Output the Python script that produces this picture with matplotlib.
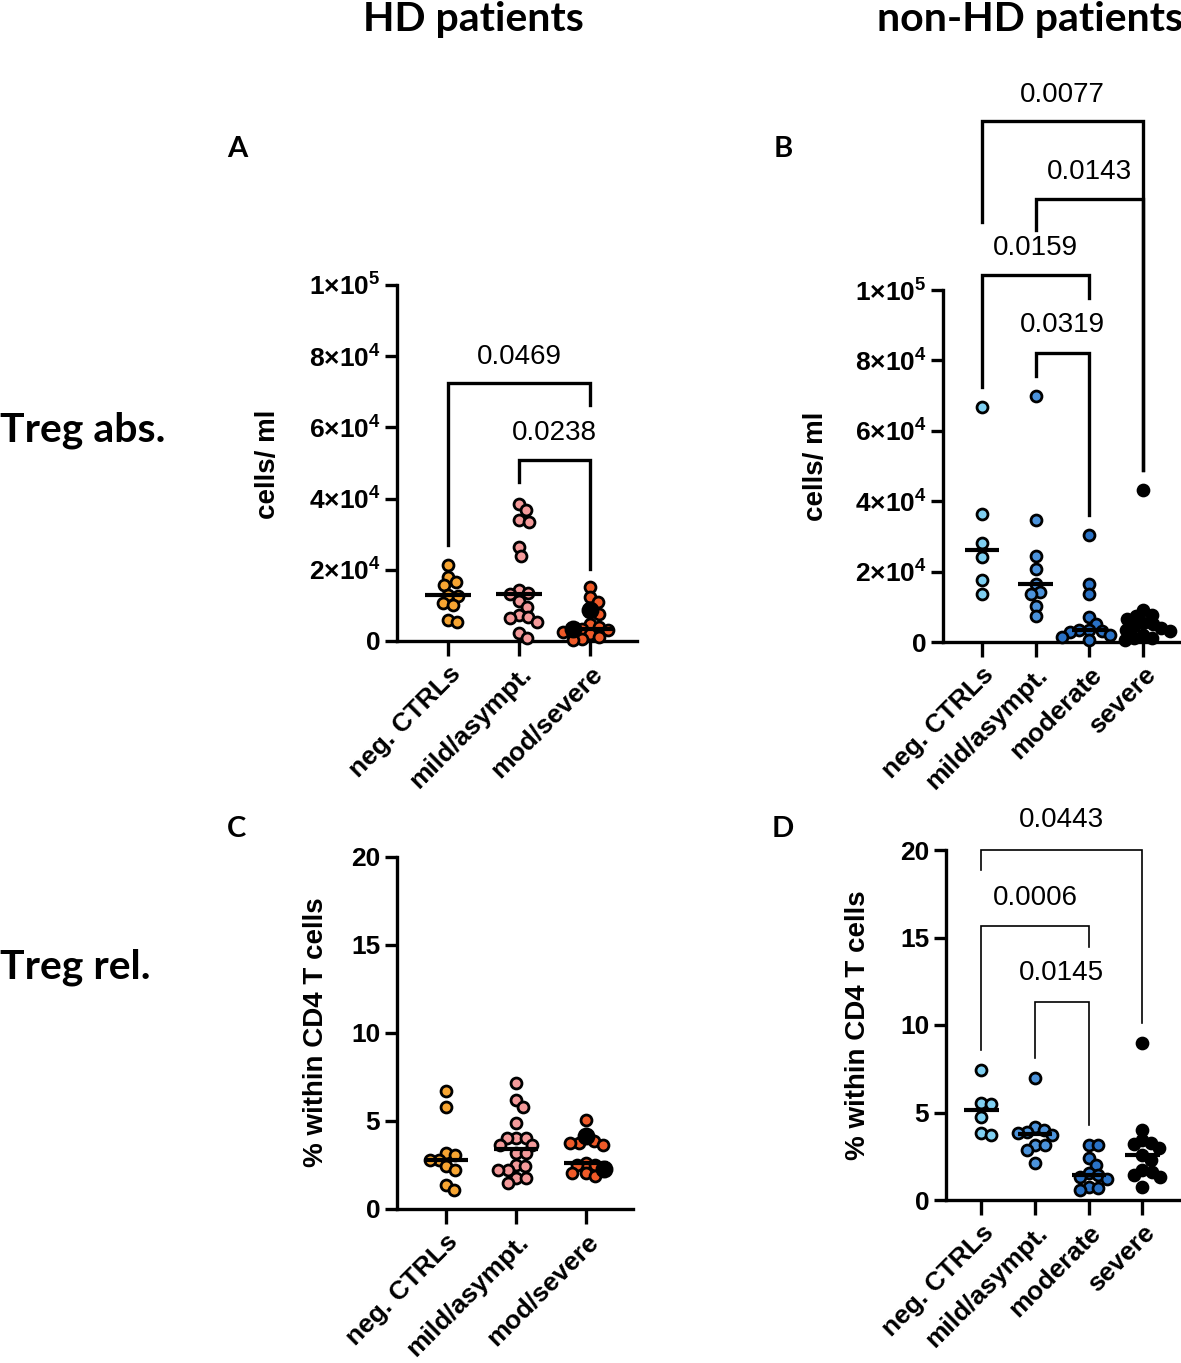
import numpy as np
import matplotlib
matplotlib.use("Agg")
import matplotlib.pyplot as plt

plt.rcParams["font.family"] = ["Liberation Sans", "DejaVu Sans"]
plt.rcParams["mathtext.fontset"] = "custom"
plt.rcParams["mathtext.rm"] = "Liberation Sans:bold"
plt.rcParams["mathtext.bf"] = "Liberation Sans:bold"
plt.rcParams["mathtext.default"] = "bf"

W, H = 1181, 1363

# ---- data -------------------------------------------------------------
HD_GROUPS = ["neg. CTRLs", "mild/asympt.", "mod/severe"]
NONHD_GROUPS = ["neg. CTRLs", "mild/asympt.", "moderate", "severe"]

HD_COLORS = ["#F7A532", "#F49A9A", "#F05A28"]
NONHD_COLORS = ["#7FD0F2", "#4C93DB", "#2A72C6", "#000000"]

# Treg abs. (cells/ml), HD patients
A_neg = [21400, 18100, 16700, 15700, 12900, 12700, 10600, 10100, 5900, 5400]
A_mild = [38600, 36900, 33900, 33500, 26400, 23800, 14300, 13600, 13200,
          11100, 9600, 7300, 6800, 6400, 5400, 2200, 800]
A_mod = [15300, 12500, 11000, 7700, 4900, 3900, 3500, 3000, 2600, 2000,
         1100, 700, 200]
A_mod_black = [8700, 3300]

# Treg abs. (cells/ml), non-HD patients
B_neg = [66800, 36500, 28000, 24200, 17500, 13700]
B_mild = [69900, 34600, 24400, 20600, 16600, 14200, 13700, 10100, 7300]
B_moderate = [30300, 16600, 13700, 7100, 5200, 3500, 3300, 3000, 2800,
              1900, 1400, 700]
B_severe = [43100, 9000, 7800, 7400, 6600, 5500, 5000, 4500, 4000, 3500,
            3000, 2000, 1200, 1000, 600]

# Treg rel. (% within CD4 T cells), HD patients
C_neg = [6.73, 5.82, 3.18, 3.08, 2.80, 2.80, 2.42, 2.23, 1.38, 1.06]
C_mild = [7.15, 6.20, 5.82, 4.88, 4.03, 4.03, 4.03, 3.65, 3.65, 3.18, 3.18,
          2.51, 2.42, 2.23, 2.23, 1.76, 1.76, 1.47]
C_mod = [5.07, 3.84, 3.74, 3.74, 3.65, 2.61, 2.51, 2.51, 2.04, 2.04, 1.85]
C_mod_black = [4.12, 2.30]

# Treg rel. (% within CD4 T cells), non-HD patients
D_neg = [7.43, 5.52, 5.49, 4.76, 3.81, 3.71]
D_mild = [6.95, 4.19, 4.00, 3.90, 3.85, 3.71, 3.14, 3.14, 2.86, 2.10]
D_moderate = [3.14, 3.14, 2.38, 2.00, 1.52, 1.43, 1.33, 1.20, 0.76, 0.67,
              0.57]
D_severe = [8.95, 4.00, 3.43, 3.24, 3.20, 2.95, 2.57, 2.29, 1.71, 1.62,
            1.43, 1.33, 0.76]

ABS_TICKS = [0, 20000, 40000, 60000, 80000, 100000]
ABS_TICKLABELS = ["0", r"$\mathbf{2{\times}10^{4}}$", r"$\mathbf{4{\times}10^{4}}$",
                  r"$\mathbf{6{\times}10^{4}}$", r"$\mathbf{8{\times}10^{4}}$",
                  r"$\mathbf{1{\times}10^{5}}$"]
REL_TICKS = [0, 5, 10, 15, 20]

# significance brackets: (group i, group j, top, left leg end, right leg end, text y, p)
A_SIG = [(0, 2, 72400, 26900, 66300, 79800, "0.0469"),
         (1, 2, 50800, 44700, 20300, 58300, "0.0238")]
B_SIG = [(0, 3, 148000, 119300, 48800, 155400, "0.0077"),
         (1, 3, 125800, 117000, 48800, 133500, "0.0143"),
         (0, 2, 104300, 72500, 97700, 111900, "0.0159"),
         (1, 2, 82100, 75500, 36000, 90000, "0.0319")]
D_SIG = [(0, 3, 20.0, 18.86, 10.13, 21.7, "0.0443"),
         (0, 2, 15.68, 8.57, 14.48, 17.24, "0.0006"),
         (1, 2, 11.33, 8.10, 4.29, 12.95, "0.0145")]


# ---- helpers ------------------------------------------------------------
def px_axes(fig, left, top, right, bottom):
    return fig.add_axes([left / W, 1 - bottom / H, (right - left) / W,
                         (bottom - top) / H])


def swarm_x(ax, xc, vals, d=9.5):
    """Beeswarm layout in pixel space, back to data x."""
    vals = np.asarray(vals, float)
    pts = ax.transData.transform(np.column_stack([np.full(len(vals), xc), vals]))
    x0 = pts[0, 0]
    placed = []
    xs = np.empty(len(vals))
    inv = ax.transData.inverted()
    for i in np.argsort(-vals):
        y = pts[i, 1]
        cands = [0.0]
        for px, py in placed:
            dy = abs(py - y)
            if dy < d:
                dx = np.sqrt(d * d - dy * dy)
                cands += [px - x0 + dx, px - x0 - dx]
        cands.sort(key=abs)
        for c in cands:
            if all((x0 + c - px) ** 2 + (y - py) ** 2 >= d * d - 1e-6
                   for px, py in placed):
                break
        placed.append((x0 + c, y))
        xs[i] = inv.transform((x0 + c, y))[0]
    return xs


def style_axes(ax, labels, ticks, ticklabels, tick_fs, xlim, ylim):
    ax.set_xlim(*xlim)
    ax.set_ylim(*ylim)
    for s in ["top", "right"]:
        ax.spines[s].set_visible(False)
    for s in ["left", "bottom"]:
        ax.spines[s].set_linewidth(2.4)
    ax.set_xticks(range(len(labels)))
    ax.set_xticklabels(labels, rotation=45, ha="right", rotation_mode="anchor",
                       fontsize=19, fontweight="bold")
    ax.set_yticks(ticks)
    ax.set_yticklabels(ticklabels, fontsize=tick_fs, fontweight="bold")
    ax.tick_params(axis="y", direction="out", length=9, width=2.4, pad=3)
    ax.tick_params(axis="x", direction="out", length=11, width=2.4, pad=4)
    ax.patch.set_alpha(0)


def draw_groups(ax, groups, colors, blacks=None):
    blacks = blacks or {}
    for k, (vals, col) in enumerate(zip(groups, colors)):
        extra = blacks.get(k, [])
        allv = list(vals) + list(extra)
        xs = swarm_x(ax, k, allv)
        n = len(vals)
        ax.scatter(xs[:n], vals, s=62, c=col, edgecolors="black",
                   linewidths=2.0, zorder=3, clip_on=False)
        if extra:
            ax.scatter(xs[n:], extra, s=130, c="black", edgecolors="black",
                       linewidths=1.5, zorder=4, clip_on=False)
        med = np.median(allv)
        ax.plot([k - 0.32, k + 0.32], [med, med], color="black", lw=3,
                zorder=5, solid_capstyle="butt")


def draw_sig(ax, sigs, lw):
    for i, j, top, l_end, r_end, ty, p in sigs:
        ax.plot([i, i, j, j], [l_end, top, top, r_end], color="black", lw=lw,
                clip_on=False, solid_joinstyle="miter")
        ax.text((i + j) / 2, ty, p, ha="center", va="center", fontsize=20,
                clip_on=False)


# ---- figure -------------------------------------------------------------
fig = plt.figure(figsize=(W / 100, H / 100), dpi=100)

axA = px_axes(fig, 397, 285, 637, 641)
style_axes(axA, HD_GROUPS, ABS_TICKS, ABS_TICKLABELS, 19, (-0.72, 2.66),
           (0, 100000))
draw_groups(axA, [A_neg, A_mild, A_mod], HD_COLORS, {2: A_mod_black})
draw_sig(axA, A_SIG, 2.4)

axB = px_axes(fig, 943, 290, 1181, 642)
style_axes(axB, NONHD_GROUPS, ABS_TICKS, ABS_TICKLABELS, 19, (-0.72, 3.7),
           (0, 100000))
draw_groups(axB, [B_neg, B_mild, B_moderate, B_severe], NONHD_COLORS)
draw_sig(axB, B_SIG, 2.4)

axC = px_axes(fig, 397, 857, 633, 1209)
style_axes(axC, HD_GROUPS, REL_TICKS, [str(t) for t in REL_TICKS], 19,
           (-0.7, 2.67), (0, 20))
draw_groups(axC, [C_neg, C_mild, C_mod], HD_COLORS, {2: C_mod_black})

axD = px_axes(fig, 946, 850, 1181, 1200)
style_axes(axD, NONHD_GROUPS, REL_TICKS, [str(t) for t in REL_TICKS], 19,
           (-0.66, 3.72), (0, 20))
draw_groups(axD, [D_neg, D_mild, D_moderate, D_severe], NONHD_COLORS)
draw_sig(axD, D_SIG, 1.2)


def ftext(x, y, s, **kw):
    fig.text(x / W, 1 - y / H, s, **kw)


ylab = dict(rotation=90, ha="center", va="center", fontsize=20,
            fontweight="bold")
ftext(268, 464, "cells/ ml", **ylab)
ftext(816, 466, "cells/ ml", **ylab)
ftext(316, 1032, "% within CD4 T cells", **ylab)
ftext(858, 1025, "% within CD4 T cells", **ylab)

head = dict(family=["Lato", "DejaVu Sans"], fontweight="bold", fontsize=29.5,
            va="center")
ftext(473, 19, "HD patients", ha="center", **head)
ftext(877, 19, "non-HD patients", ha="left", **head)
ftext(0, 430, "Treg abs.", ha="left", **head)
ftext(0, 967, "Treg rel.", ha="left", **head)

letter = dict(family=["Lato", "DejaVu Sans"], fontweight="bold", fontsize=21,
              ha="center", va="center")
ftext(237, 149, "A", **letter)
ftext(783, 149, "B", **letter)
ftext(237, 829, "C", **letter)
ftext(783, 829, "D", **letter)

fig.savefig("out.png", dpi=100)
